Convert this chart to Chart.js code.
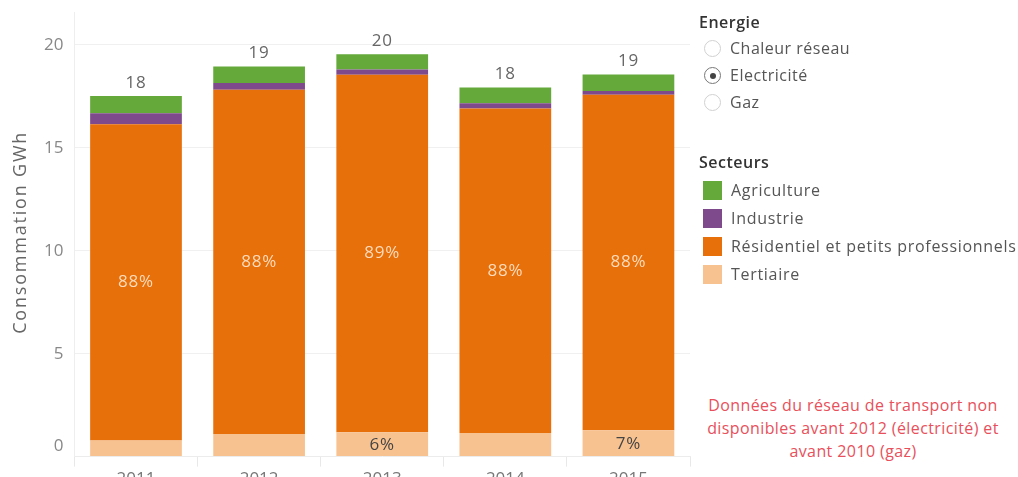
<!DOCTYPE html>
<html lang="fr">
<head>
<meta charset="utf-8">
<title>Consommation électrique par secteur</title>
<script src="https://cdn.jsdelivr.net/npm/chart.js@4/dist/chart.umd.min.js"></script>
<style>
    html, body {
        margin: 0;
        padding: 0;
        background: #fff;
        width: 1018px;
        height: 477px;
        overflow: hidden;
        font-family: "Open Sans", sans-serif;
    }
    #chartBox {
        position: absolute;
        left: 0;
        top: 0;
        width: 700px;
        height: 491px;
    }
    .panel {
        position: absolute;
        left: 699px;
        color: #555;
        font-size: 16px;
        letter-spacing: 0.5px;
    }
    .panel h3 {
        margin: 0;
        font-size: 16px;
        font-weight: 600;
        color: #333;
        line-height: 20px;
    }
    .radio-row {
        position: relative;
        height: 27px;
        line-height: 27px;
        padding-left: 31px;
    }
    .radio {
        position: absolute;
        left: 5px;
        top: 5px;
        width: 15px;
        height: 15px;
        border: 1.5px solid #d0d0d0;
        border-radius: 50%;
        box-sizing: content-box;
    }
    .radio.on {
        border-color: #777;
    }
    .radio.on::after {
        content: "";
        position: absolute;
        left: 4.5px;
        top: 4.5px;
        width: 6px;
        height: 6px;
        border-radius: 50%;
        background: #444;
    }
    .legend-row {
        position: relative;
        height: 28px;
        line-height: 28px;
        padding-left: 32px;
        white-space: nowrap;
        letter-spacing: 0.7px;
    }
    .swatch {
        position: absolute;
        left: 4px;
        top: 5px;
        width: 19px;
        height: 19px;
    }
    #note {
        position: absolute;
        left: 702px;
        width: 302px;
        top: 394px;
        text-align: center;
        color: #e8505b;
        font-size: 16px;
        letter-spacing: 0.4px;
        line-height: 23px;
    }
</style>
</head>
<body>

<div id="chartBox"><canvas id="sectorChart"></canvas></div>

<div class="panel" style="top: 12px;">
    <h3>Energie</h3>
    <div id="energyList" style="margin-top: 3px;"></div>
</div>

<div class="panel" style="top: 152px;">
    <h3>Secteurs</h3>
    <div id="sectorLegend" style="margin-top: 4px;"></div>
</div>

<div id="note">Données du réseau de transport non disponibles avant 2012 (électricité) et avant 2010 (gaz)</div>

<script>
// ==========================================
// DATA (GWh per sector and year)
// ==========================================

const years = ['2011', '2012', '2013', '2014', '2015'];

const tertiaire   = [0.78, 1.10, 1.18, 1.15, 1.28];
const residentiel = [15.37, 16.72, 17.37, 15.76, 16.30];
const industrie   = [0.53, 0.33, 0.26, 0.26, 0.18];
const agriculture = [0.84, 0.80, 0.74, 0.76, 0.80];

// share labels for the small bottom segment are only shown on some bars
const tertiaireLabelShown = [false, false, true, false, true];

const energyOptions = ['Chaleur réseau', 'Electricité', 'Gaz'];
const energySelected = 'Electricité';

const yTicks = [0, 5, 10, 15, 20];
const yTitle = 'Consommation GWh';

// ==========================================
// COLOURS
// ==========================================

const sectorColors = {
    'Agriculture': '#65a93a',
    'Industrie': '#7f4a8c',
    'Résidentiel et petits professionnels': '#e8700a',
    'Tertiaire': '#f8c290'
};

// stacking order: first dataset sits at the bottom
const datasets = [
    { label: 'Tertiaire', data: tertiaire },
    { label: 'Résidentiel et petits professionnels', data: residentiel },
    { label: 'Industrie', data: industrie },
    { label: 'Agriculture', data: agriculture }
].map(ds => ({
    label: ds.label,
    data: ds.data,
    backgroundColor: sectorColors[ds.label],
    borderWidth: 0,
    barPercentage: 0.745,
    categoryPercentage: 1.0
}));

const totals = years.map((y, i) => tertiaire[i] + residentiel[i] + industrie[i] + agriculture[i]);

const FONT = '"Open Sans", sans-serif';

// ==========================================
// LABEL PLUGIN (percentages + totals + axis title)
// ==========================================

const barLabels = {
    id: 'barLabels',
    afterDatasetsDraw(chart) {
        const ctx = chart.ctx;
        const area = chart.chartArea;
        const resMeta = chart.getDatasetMeta(1);
        const terMeta = chart.getDatasetMeta(0);
        const topMeta = chart.getDatasetMeta(3);

        ctx.save();
        ctx.textAlign = 'center';
        ctx.textBaseline = 'middle';
        ctx.letterSpacing = '0.8px';

        years.forEach((year, i) => {
            const total = totals[i];

            // residential share in the middle of the orange segment
            const res = resMeta.data[i];
            ctx.font = '17px ' + FONT;
            ctx.fillStyle = '#fcdcbd';
            ctx.fillText(Math.round(residentiel[i] / total * 100) + '%', res.x, (res.y + res.base) / 2);

            // tertiary share where it fits
            if (tertiaireLabelShown[i]) {
                const ter = terMeta.data[i];
                ctx.fillStyle = '#444';
                ctx.fillText(Math.round(tertiaire[i] / total * 100) + '%', ter.x, (ter.y + ter.base) / 2 + 1);
            }

            // total above the bar
            const top = topMeta.data[i];
            ctx.font = '17px ' + FONT;
            ctx.fillStyle = '#666';
            ctx.fillText(String(Math.round(total)), top.x, top.y - 13);
        });

        // rotated y axis title
        ctx.font = '18px ' + FONT;
        ctx.letterSpacing = '1.8px';
        ctx.fillStyle = '#666';
        ctx.translate(21, (area.top + area.bottom) / 2 - 2);
        ctx.rotate(-Math.PI / 2);
        ctx.fillText(yTitle, 0, 0);

        ctx.restore();
    }
};

// ==========================================
// CHART
// ==========================================

function initSectorChart() {
    const ctx = document.getElementById('sectorChart');

    new Chart(ctx, {
        type: 'bar',
        data: {
            labels: years,
            datasets: datasets
        },
        options: {
            responsive: true,
            maintainAspectRatio: false,
            animation: false,
            layout: { padding: { left: 33, top: 12, right: 10, bottom: 0 } },
            plugins: {
                legend: { display: false },
                tooltip: { enabled: false }
            },
            scales: {
                x: {
                    stacked: true,
                    grid: {
                        offset: true,
                        drawOnChartArea: false,
                        drawTicks: true,
                        tickLength: 10,
                        color: '#e8e8e8'
                    },
                    border: { color: '#ececec' },
                    ticks: {
                        color: '#777',
                        padding: 2,
                        font: { family: FONT, size: 17 }
                    }
                },
                y: {
                    stacked: true,
                    min: 0,
                    max: 21.6,
                    afterBuildTicks(axis) {
                        axis.ticks = yTicks.map(v => ({ value: v }));
                    },
                    afterFit(axis) {
                        // no extra room above/below the plot for end tick labels
                        axis.paddingTop = 0;
                        axis.paddingBottom = 0;
                    },
                    grid: {
                        drawTicks: false,
                        color: ctx => ctx.tick.value === 0 ? 'rgba(0,0,0,0)' : '#f0f0f0'
                    },
                    border: { color: '#eeeeee' },
                    ticks: {
                        color: '#888',
                        padding: 11,
                        font: { family: FONT, size: 17 },
                        // the zero label sits a bit above the baseline
                        callback: value => value === 0 ? ['0', ''] : String(value)
                    }
                }
            }
        },
        plugins: [barLabels]
    });
}

// ==========================================
// SIDE PANEL (energy selector + sector legend)
// ==========================================

function buildPanel() {
    const energyList = document.getElementById('energyList');
    energyOptions.forEach(name => {
        const row = document.createElement('div');
        row.className = 'radio-row';
        row.innerHTML = '<span class="radio' + (name === energySelected ? ' on' : '') + '"></span>' + name;
        energyList.appendChild(row);
    });

    const legend = document.getElementById('sectorLegend');
    datasets.slice().reverse().forEach(ds => {
        const row = document.createElement('div');
        row.className = 'legend-row';
        row.innerHTML = '<span class="swatch" style="background:' + ds.backgroundColor + '"></span>' + ds.label;
        legend.appendChild(row);
    });
}

document.addEventListener('DOMContentLoaded', function() {
    buildPanel();
    initSectorChart();
});
</script>
</body>
</html>
